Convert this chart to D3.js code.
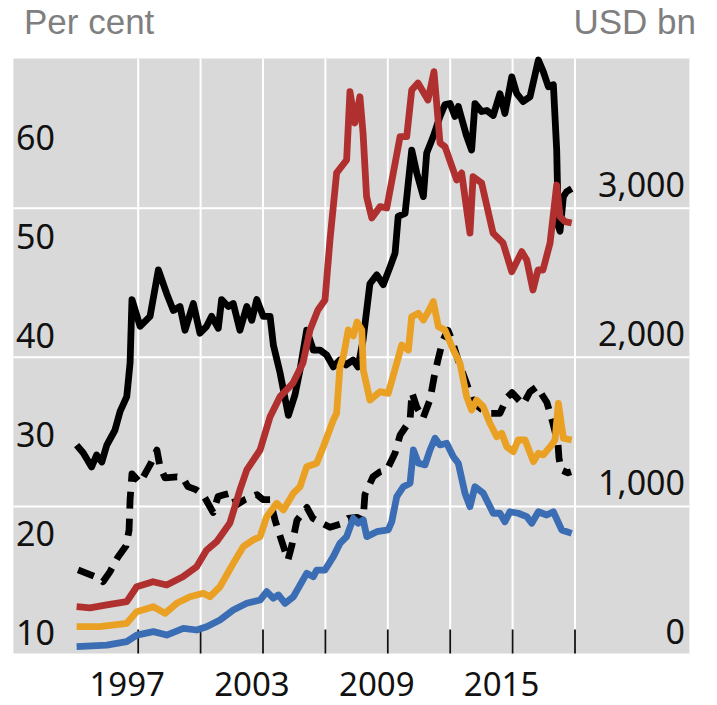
<!DOCTYPE html>
<html><head><meta charset="utf-8">
<script src="https://cdn.jsdelivr.net/npm/d3@7"></script>
<style>body{margin:0;background:#fff} svg{display:block}</style>
</head><body><svg id="c" width="717" height="705"></svg>
<script>
// ---- data ----
const leftTicks = [10, 20, 30, 40, 50, 60];
const rightTicks = [0, 1000, 2000, 3000];
const rightGrid = [1000, 2000, 3000];
const yearTicks = [1997, 2000, 2003, 2006, 2009, 2012, 2015, 2018];
const yearLabels = [1997, 2003, 2009, 2015];

// Per cent (left axis)
const blackSolid = [[1994.04,31.0],[1994.36,30.2],[1994.76,28.8],[1995.00,30.0],[1995.25,29.3],[1995.49,31.0],[1995.88,32.5],[1996.13,34.4],[1996.45,35.9],[1996.61,39.3],[1996.70,45.7],[1997.09,43.0],[1997.57,44.0],[1997.97,48.7],[1998.37,46.3],[1998.69,44.6],[1999.01,45.0],[1999.25,42.6],[1999.65,45.3],[1999.97,42.3],[2000.29,43.0],[2000.53,44.0],[2000.85,42.8],[2001.01,45.7],[2001.33,45.0],[2001.57,45.3],[2001.89,42.6],[2002.22,45.0],[2002.46,43.6],[2002.70,45.7],[2003.01,44.0],[2003.34,44.0],[2003.50,41.1],[2003.82,38.3],[2004.22,34.0],[2004.54,36.1],[2004.78,38.6],[2005.10,42.6],[2005.42,40.6],[2005.74,40.6],[2006.06,40.1],[2006.38,38.9],[2006.70,39.6],[2006.99,39.1],[2007.33,39.6],[2007.57,38.9],[2007.81,41.6],[2008.14,47.3],[2008.47,48.2],[2008.78,47.2],[2009.11,49.0],[2009.35,50.4],[2009.50,54.1],[2009.83,54.4],[2010.15,60.8],[2010.39,58.5],[2010.71,56.1],[2010.87,60.5],[2011.19,62.2],[2011.51,64.2],[2011.75,65.4],[2011.99,65.5],[2012.23,64.2],[2012.39,65.2],[2012.55,64.0],[2012.79,62.2],[2013.03,60.8],[2013.19,65.5],[2013.51,64.7],[2013.76,64.8],[2014.07,64.3],[2014.39,66.5],[2014.63,64.5],[2014.96,68.2],[2015.20,66.5],[2015.51,65.7],[2015.84,66.2],[2016.24,69.9],[2016.48,68.7],[2016.72,67.2],[2016.96,67.4],[2017.12,60.8],[2017.20,53.1],[2017.28,52.6],[2017.44,56.1],[2017.60,56.6],[2017.84,56.9]];

const blackDashed = [[1994.11,18.4],[1994.59,18.0],[1995.07,17.6],[1995.31,17.2],[1995.64,18.2],[1996.03,19.7],[1996.41,20.8],[1996.56,22.4],[1996.61,25.5],[1996.70,28.1],[1997.09,27.2],[1997.62,29.2],[1997.90,30.5],[1998.05,28.8],[1998.29,27.7],[1998.87,27.8],[1999.15,27.7],[1999.39,26.8],[1999.78,26.5],[2000.12,26.0],[2000.60,24.2],[2000.84,25.8],[2001.17,26.0],[2001.51,26.2],[2001.75,25.0],[2002.13,25.5],[2002.71,26.0],[2003.00,25.5],[2003.34,25.5],[2003.58,23.4],[2003.96,20.9],[2004.20,19.4],[2004.39,20.9],[2004.63,23.4],[2005.11,24.7],[2005.40,23.6],[2005.74,23.2],[2006.22,22.7],[2006.70,23.0],[2007.09,23.6],[2007.52,23.7],[2007.81,23.4],[2007.90,26.0],[2008.29,27.8],[2008.63,28.3],[2008.96,28.5],[2009.35,30.2],[2009.59,32.0],[2010.07,33.5],[2010.16,36.3],[2010.40,34.8],[2010.69,33.7],[2011.03,35.6],[2011.22,37.8],[2011.41,39.6],[2011.65,41.6],[2011.89,42.6],[2012.09,41.6],[2012.33,39.9],[2012.81,37.1],[2013.10,35.3],[2013.53,34.6],[2013.91,34.2],[2014.39,34.2],[2014.73,35.8],[2014.97,36.3],[2015.50,35.1],[2015.84,36.4],[2016.17,36.9],[2016.65,35.3],[2016.94,33.2],[2017.18,31.2],[2017.23,29.7],[2017.33,28.5],[2017.66,28.2],[2017.81,28.3]];

// USD bn (right axis)
const redSeries = [[1994.04,327],[1994.68,319],[1995.49,339],[1996.45,361],[1996.93,461],[1997.71,495],[1998.37,473],[1999.15,528],[1999.81,595],[2000.29,707],[2000.77,763],[2001.41,889],[2001.89,1110],[2002.22,1244],[2002.86,1378],[2003.34,1601],[2003.82,1736],[2004.44,1827],[2004.92,1962],[2005.26,2183],[2005.64,2317],[2005.98,2384],[2006.22,2786],[2006.54,3236],[2007.02,3323],[2007.18,3781],[2007.42,3571],[2007.66,3747],[2007.81,3504],[2007.98,3077],[2008.23,2934],[2008.63,3010],[2008.95,3001],[2009.59,3479],[2009.91,3479],[2010.15,3792],[2010.45,3839],[2010.93,3725],[2011.22,3915],[2011.51,3437],[2011.75,3412],[2012.31,3189],[2012.55,3236],[2012.95,2833],[2013.10,3211],[2013.51,3169],[2014.06,2833],[2014.54,2766],[2014.96,2574],[2015.44,2708],[2015.68,2652],[2015.98,2451],[2016.22,2585],[2016.46,2585],[2016.80,2766],[2017.12,3155],[2017.28,2943],[2017.52,2909],[2017.84,2900]];

const orangeSeries = [[1994.04,193],[1995.16,193],[1996.45,216],[1996.93,294],[1997.73,327],[1998.29,283],[1998.85,350],[1999.49,394],[2000.13,417],[2000.45,394],[2000.93,461],[2001.57,618],[2002.05,730],[2002.53,775],[2002.86,797],[2003.18,931],[2003.66,1021],[2003.98,976],[2004.46,1088],[2004.78,1132],[2005.10,1266],[2005.58,1289],[2005.90,1400],[2006.38,1579],[2006.54,1624],[2006.70,1937],[2006.86,2004],[2007.10,2183],[2007.34,2143],[2007.52,2236],[2007.75,2183],[2007.82,1915],[2008.14,1713],[2008.63,1769],[2009.02,1758],[2009.43,1960],[2009.67,2082],[2009.99,2049],[2010.15,2272],[2010.47,2295],[2010.71,2250],[2010.95,2306],[2011.19,2373],[2011.43,2205],[2011.75,2183],[2012.15,2049],[2012.47,1960],[2012.79,1736],[2013.03,1646],[2013.27,1713],[2013.59,1668],[2013.91,1557],[2014.24,1467],[2014.48,1490],[2014.72,1400],[2015.03,1367],[2015.27,1445],[2015.60,1445],[2016.00,1300],[2016.24,1356],[2016.48,1345],[2016.88,1412],[2017.04,1445],[2017.20,1691],[2017.44,1457],[2017.84,1445]];

const blueSeries = [[1994.04,59],[1995.49,70],[1996.45,93],[1996.93,137],[1997.73,160],[1998.37,137],[1999.17,182],[1999.81,171],[2000.29,193],[2000.93,238],[2001.57,305],[2002.22,350],[2002.86,372],[2003.18,428],[2003.50,384],[2003.74,406],[2004.06,350],[2004.46,394],[2005.10,551],[2005.42,528],[2005.58,573],[2005.98,573],[2006.38,663],[2006.70,752],[2007.02,797],[2007.34,920],[2007.58,887],[2007.82,909],[2007.99,797],[2008.47,830],[2009.02,842],[2009.19,897],[2009.43,1065],[2009.75,1132],[2010.07,1155],[2010.23,1378],[2010.47,1289],[2010.79,1278],[2011.03,1378],[2011.27,1457],[2011.51,1412],[2011.83,1423],[2012.15,1333],[2012.39,1289],[2012.71,1088],[2012.95,998],[2013.19,1132],[2013.59,1088],[2014.07,954],[2014.39,954],[2014.63,897],[2014.87,964],[2015.27,954],[2015.68,931],[2015.92,887],[2016.24,964],[2016.64,942],[2016.96,964],[2017.36,842],[2017.84,819]];

// ---- chart ----
const svg = d3.select('#c');
const x = d3.scaleLinear().domain([1997, 2018]).range([138.2, 575]);
const yL = d3.scaleLinear().domain([10, 70]).range([653, 59]);
const yR = d3.scaleLinear().domain([0, 4000]).range([655.5, 59]);
const pTop = 58.5, pBot = 653.5, pLeft = x(1991), pRight = x(2023.5);

svg.append('rect').attr('x', pLeft).attr('y', pTop)
  .attr('width', pRight - pLeft).attr('height', pBot - pTop).attr('fill', '#d9d9d9');

// grid
svg.append('g').selectAll('line').data(yearTicks).join('line')
  .attr('x1', d => x(d)).attr('x2', d => x(d)).attr('y1', pTop).attr('y2', pBot)
  .attr('stroke', '#fff').attr('stroke-width', 2);
svg.append('g').selectAll('line').data(rightGrid).join('line')
  .attr('x1', pLeft).attr('x2', pRight).attr('y1', d => yR(d)).attr('y2', d => yR(d))
  .attr('stroke', '#fff').attr('stroke-width', 2);

// x ticks (inside)
svg.append('g').selectAll('line').data(yearTicks).join('line')
  .attr('x1', d => x(d)).attr('x2', d => x(d)).attr('y1', pBot - 24).attr('y2', pBot)
  .attr('stroke', '#111').attr('stroke-width', 1.8);

const font = "'Noto Sans', 'Open Sans', sans-serif";
// left labels
svg.append('g').selectAll('text').data(leftTicks).join('text')
  .attr('x', 16).attr('y', d => yL(d) - 8)
  .attr('font-family', font).attr('font-size', 34).attr('fill', '#111')
  .text(d => d);
// right labels
svg.append('g').selectAll('text').data(rightTicks).join('text')
  .attr('x', 685).attr('y', d => yR(d) - 11.6).attr('text-anchor', 'end')
  .attr('font-family', font).attr('font-size', 34).attr('fill', '#111')
  .text(d => d3.format(',')(d));
// bottom labels
svg.append('g').selectAll('text').data(yearLabels).join('text')
  .attr('x', d => x(d) - 11).attr('y', 695.5).attr('text-anchor', 'middle')
  .attr('font-family', font).attr('font-size', 33).attr('fill', '#111')
  .text(d => d);

// unit titles
svg.append('text').attr('x', 24).attr('y', 34.3)
  .attr('font-family', "'Liberation Sans', Arial, sans-serif").attr('font-size', 35)
  .attr('fill', '#7f7f7f').text('Per cent');
svg.append('text').attr('x', 696).attr('y', 34.3).attr('text-anchor', 'end')
  .attr('font-family', "'Liberation Sans', Arial, sans-serif").attr('font-size', 35)
  .attr('fill', '#7f7f7f').text('USD bn');

// lines
const lineL = d3.line().x(d => x(d[0])).y(d => yL(d[1]));
const lineR = d3.line().x(d => x(d[0])).y(d => yR(d[1]));
function draw(data, gen, color, dash) {
  svg.append('path').datum(data).attr('d', gen)
    .attr('fill', 'none').attr('stroke', color).attr('stroke-width', 6.8)
    .attr('stroke-linejoin', 'round')
    .attr('stroke-dasharray', dash || null);
}
draw(blackSolid, lineL, '#000');
draw(blackDashed, lineL, '#000', '17,10');
draw(blueSeries, lineR, '#3a6db3');
draw(orangeSeries, lineR, '#e9a023');
draw(redSeries, lineR, '#b0302f');
</script></body></html>
